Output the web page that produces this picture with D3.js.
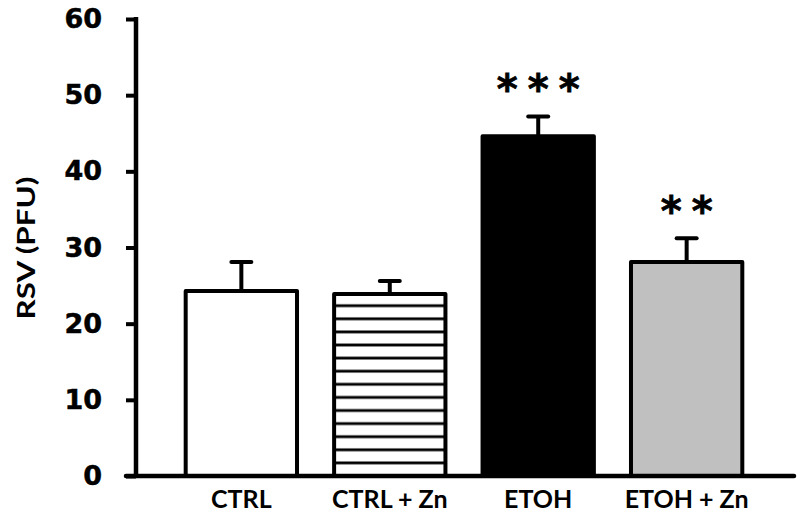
<!DOCTYPE html>
<html>
<head>
<meta charset="utf-8">
<script src="https://cdn.jsdelivr.net/npm/d3@7"></script>
<style>
  body { margin: 0; background: #fff; }
</style>
</head>
<body>
<div id="chart"></div>
<script>
// data
let groups = ["CTRL", "CTRL + Zn", "ETOH", "ETOH + Zn"];
let means = [24.3, 23.9, 44.6, 28.1];
let errors = [3.8, 1.7, 2.6, 3.1];
let stars = ["", "", "***", "**"];
let yTicks = [0, 10, 20, 30, 40, 50, 60];

let svgWidth = 800;
let svgHeight = 517;

let margin = { top: 19, right: 6, bottom: 41, left: 136 };

let chartWidth = svgWidth - margin.left - margin.right;
let chartHeight = svgHeight - margin.top - margin.bottom;

let fills = ["#ffffff", "url(#hatch)", "#000000", "#c0c0c0"];

let svg = d3.select("#chart")
  .append("svg")
  .attr("width", svgWidth)
  .attr("height", svgHeight);

let chartGroup = svg.append("g")
  .attr("transform", `translate(${margin.left}, ${margin.top})`);

let xScale = d3.scaleBand()
  .domain(groups)
  .range([20, chartWidth - 22])
  .paddingInner(0.25)
  .paddingOuter(0.2);

let yScale = d3.scaleLinear()
  .domain([0, 60])
  .range([chartHeight, 0]);

// horizontal hatch for CTRL + Zn, lines aligned to the baseline
let pat = svg.append("defs").append("pattern")
  .attr("id", "hatch")
  .attr("patternUnits", "userSpaceOnUse")
  .attr("x", 0)
  .attr("y", chartHeight)
  .attr("width", 20)
  .attr("height", 13.1);
pat.append("rect").attr("width", 20).attr("height", 13.1).attr("fill", "#fff");
pat.append("rect").attr("y", -1.4).attr("width", 20).attr("height", 2.8).attr("fill", "#000");
pat.append("rect").attr("y", 11.7).attr("width", 20).attr("height", 2.8).attr("fill", "#000");

// bars
chartGroup.selectAll("rect.bar")
  .data(groups)
  .enter()
  .append("rect")
  .attr("class", "bar")
  .attr("x", d => xScale(d))
  .attr("y", (d, i) => yScale(means[i]))
  .attr("width", xScale.bandwidth())
  .attr("height", (d, i) => chartHeight - yScale(means[i]))
  .attr("fill", (d, i) => fills[i])
  .attr("stroke", "#000")
  .attr("stroke-width", 4)
  .attr("stroke-linejoin", "round");

// error bars (upper only)
let err = chartGroup.selectAll("g.err")
  .data(groups)
  .enter()
  .append("g")
  .attr("class", "err");

err.append("line")
  .attr("x1", d => xScale(d) + xScale.bandwidth() / 2)
  .attr("x2", d => xScale(d) + xScale.bandwidth() / 2)
  .attr("y1", (d, i) => yScale(means[i]))
  .attr("y2", (d, i) => yScale(means[i] + errors[i]))
  .attr("stroke", "#000")
  .attr("stroke-width", 4);

err.append("line")
  .attr("x1", d => xScale(d) + xScale.bandwidth() / 2 - 10)
  .attr("x2", d => xScale(d) + xScale.bandwidth() / 2 + 10)
  .attr("y1", (d, i) => yScale(means[i] + errors[i]))
  .attr("y2", (d, i) => yScale(means[i] + errors[i]))
  .attr("stroke", "#000")
  .attr("stroke-width", 4)
  .attr("stroke-linecap", "round");

// significance stars
chartGroup.selectAll("text.star")
  .data(groups)
  .enter()
  .append("text")
  .attr("class", "star")
  .attr("x", d => xScale(d) + xScale.bandwidth() / 2 + 5)
  .attr("y", (d, i) => yScale(means[i] + errors[i]) - 13)
  .attr("text-anchor", "middle")
  .style("font-family", "DejaVu Sans")
  .style("font-weight", "bold")
  .style("font-size", "40px")
  .style("letter-spacing", "10px")
  .attr("stroke", "#000")
  .attr("stroke-width", 0.8)
  .text((d, i) => stars[i]);

// y axis
let leftAxis = d3.axisLeft(yScale)
  .tickValues(yTicks)
  .tickSize(10)
  .tickPadding(24);

let yAxisG = chartGroup.append("g").call(leftAxis);
yAxisG.select(".domain").remove();
yAxisG.selectAll(".tick line")
  .attr("stroke", "#000")
  .attr("stroke-width", 4);
yAxisG.selectAll(".tick text")
  .style("font-family", "DejaVu Sans")
  .style("font-weight", "bold")
  .style("font-size", "27px")
  .attr("fill", "#000")
  .attr("stroke", "#000")
  .attr("stroke-width", 0.5);

chartGroup.append("line")
  .attr("x1", 0).attr("x2", 0)
  .attr("y1", yScale(60) - 2).attr("y2", yScale(0) + 2)
  .attr("stroke", "#000")
  .attr("stroke-width", 4.5);

// x axis line
chartGroup.append("line")
  .attr("x1", -10).attr("x2", chartWidth)
  .attr("y1", yScale(0)).attr("y2", yScale(0))
  .attr("stroke", "#000")
  .attr("stroke-width", 4.5)
  .attr("stroke-linecap", "round");

// category labels
chartGroup.selectAll("text.cat")
  .data(groups)
  .enter()
  .append("text")
  .attr("class", "cat")
  .attr("x", d => xScale(d) + xScale.bandwidth() / 2)
  .attr("y", chartHeight + 32)
  .attr("text-anchor", "middle")
  .style("font-family", "Lato")
  .style("font-weight", "bold")
  .style("font-size", "25px")
  .text(d => d);

// Y axis title
svg.append("text")
  .attr("transform", `translate(35, 248) rotate(-90)`)
  .attr("text-anchor", "middle")
  .attr("textLength", 143)
  .attr("lengthAdjust", "spacingAndGlyphs")
  .style("font-family", "Lato")
  .style("font-weight", "bold")
  .style("font-size", "25px")
  .text("RSV (PFU)");
</script>
</body>
</html>
